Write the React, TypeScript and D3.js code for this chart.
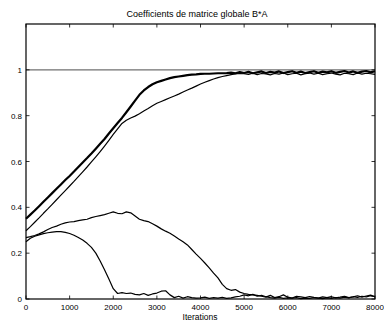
import React from "react";
import * as d3 from "d3";

const iterations: number[] = d3.range(0, 8001, 100);

const diagA: number[] = [
  0.350, 0.368, 0.386, 0.405, 0.424, 0.443, 0.462, 0.481, 0.500, 0.519,
  0.537, 0.556, 0.576, 0.596, 0.615, 0.635, 0.656, 0.677, 0.698, 0.722,
  0.745, 0.768, 0.790, 0.815, 0.840, 0.866, 0.891, 0.910, 0.925, 0.937,
  0.946, 0.952, 0.958, 0.964, 0.968, 0.971, 0.974, 0.977, 0.979, 0.980,
  0.982, 0.983, 0.983, 0.984, 0.985, 0.985, 0.986,
  0.988, 0.985, 0.990, 0.986, 0.991, 0.985, 0.989, 0.993, 0.986, 0.991,
  0.988, 0.993, 0.986, 0.990, 0.994, 0.987, 0.992, 0.986, 0.990, 0.994,
  0.987, 0.992, 0.989, 0.994, 0.987, 0.991, 0.995, 0.988, 0.993, 0.987,
  0.992, 0.995, 0.989, 0.994,
];

const diagB: number[] = [
  0.298, 0.316, 0.335, 0.354, 0.374, 0.393, 0.413, 0.433, 0.453, 0.473,
  0.493, 0.513, 0.534, 0.555, 0.576, 0.598, 0.620, 0.643, 0.667, 0.692,
  0.718, 0.742, 0.766, 0.780, 0.790, 0.798, 0.808, 0.820, 0.831, 0.843,
  0.854, 0.862, 0.870, 0.878, 0.886, 0.894, 0.903, 0.912, 0.920, 0.929,
  0.938, 0.946, 0.953, 0.960, 0.966, 0.971, 0.975, 0.979, 0.982, 0.984,
  0.983, 0.980, 0.985, 0.979, 0.984, 0.982, 0.978, 0.984, 0.981, 0.986,
  0.979, 0.983, 0.985, 0.978, 0.983, 0.986, 0.981, 0.985, 0.979, 0.983,
  0.986, 0.981, 0.978, 0.985, 0.983, 0.979, 0.986, 0.981, 0.985, 0.983,
  0.980,
];

const offC: number[] = [
  0.268, 0.272, 0.277, 0.284, 0.293, 0.303, 0.312, 0.318, 0.326, 0.332,
  0.336, 0.338, 0.342, 0.345, 0.348, 0.355, 0.360, 0.364, 0.368, 0.374,
  0.380, 0.374, 0.372, 0.380, 0.376, 0.362, 0.348, 0.342, 0.338, 0.328,
  0.318, 0.306, 0.296, 0.287, 0.275, 0.262, 0.250, 0.236, 0.216, 0.196,
  0.177, 0.157, 0.136, 0.113, 0.092, 0.064, 0.045, 0.038, 0.041, 0.030,
  0.024, 0.020, 0.018, 0.016,
  0.012, 0.008, 0.016, 0.006, 0.010, 0.018, 0.008, 0.004, 0.012, 0.009,
  0.006, 0.011, 0.007, 0.004, 0.009, 0.006, 0.010, 0.005, 0.008, 0.012,
  0.006, 0.009, 0.014, 0.008, 0.013, 0.017, 0.010,
];

const offD: number[] = [
  0.250, 0.265, 0.274, 0.280, 0.285, 0.289, 0.292, 0.294, 0.294, 0.291,
  0.286, 0.278, 0.268, 0.257, 0.243, 0.225, 0.200, 0.166, 0.128, 0.087,
  0.045, 0.024, 0.028, 0.024, 0.026, 0.020, 0.018, 0.024, 0.016, 0.022,
  0.026, 0.034, 0.036, 0.018, 0.006, 0.012, 0.004, 0.010, 0.006, 0.004,
  0.005, 0.008, 0.003, 0.006, 0.004, 0.007, 0.003, 0.005, 0.009, 0.012,
  0.018, 0.014, 0.020, 0.012, 0.016, 0.010, 0.006, 0.004, 0.007, 0.003,
  0.005, 0.004, 0.006, 0.002, 0.004, 0.003, 0.006, 0.004, 0.002, 0.005,
  0.003, 0.006, 0.004, 0.008, 0.005, 0.010, 0.007, 0.012, 0.009, 0.014,
  0.010,
];

const xTicks: number[] = [0, 1000, 2000, 3000, 4000, 5000, 6000, 7000, 8000];
const yTicks: number[] = [0, 0.2, 0.4, 0.6, 0.8, 1];
const yTickLabels: string[] = ["0", "0.2", "0.4", "0.6", "0.8", "1"];
const refLevel = 1;

const series = [
  { name: "A", values: diagA, width: 2.2 },
  { name: "B", values: diagB, width: 1.2 },
  { name: "C", values: offC, width: 1.2 },
  { name: "D", values: offD, width: 1.2 },
];

export default function App() {
  const W = 384, H = 322;
  const left = 26, right = 375, top = 24, bottom = 299;
  const x = d3.scaleLinear().domain([0, 8000]).range([left, right]);
  const y = d3.scaleLinear().domain([0, 1.2]).range([bottom, top]);
  const font = "'Liberation Sans', Arial, Helvetica, sans-serif";
  const tickLen = 3.5;

  const line = (vals: number[]) =>
    d3.line<number>()
      .x((_, i) => x(iterations[i]))
      .y((v) => y(v))(vals) || "";

  return (
    <svg width={W} height={H} style={{ position: "absolute", left: 0, top: 0, background: "#fff" }}>
      <rect x={0} y={0} width={W} height={H} fill="#fff" />
      <text x={197} y={17} fontFamily={font} fontSize={9} textAnchor="middle" fill="#000">
        Coefficients de matrice globale B*A
      </text>
      <line x1={left} x2={right} y1={y(refLevel)} y2={y(refLevel)} stroke="#707070" strokeWidth={1.2} />
      {series.map((s) => (
        <path key={s.name} d={line(s.values)} fill="none" stroke="#000" strokeWidth={s.width} strokeLinejoin="round" />
      ))}
      {xTicks.map((t) => (
        <g key={"x" + t}>
          <line x1={x(t)} x2={x(t)} y1={bottom} y2={bottom - tickLen} stroke="#000" strokeWidth={0.8} />
          <line x1={x(t)} x2={x(t)} y1={top} y2={top + tickLen} stroke="#000" strokeWidth={0.8} />
          <text x={x(t)} y={310} fontFamily={font} fontSize={8} textAnchor="middle" fill="#000">{t}</text>
        </g>
      ))}
      {yTicks.map((t, i) => (
        <g key={"y" + t}>
          <line x1={left} x2={left + tickLen} y1={y(t)} y2={y(t)} stroke="#000" strokeWidth={0.8} />
          <line x1={right} x2={right - tickLen} y1={y(t)} y2={y(t)} stroke="#000" strokeWidth={0.8} />
          <text x={22} y={y(t) + 3} fontFamily={font} fontSize={8} textAnchor="end" fill="#000">{yTickLabels[i]}</text>
        </g>
      ))}
      <rect x={left} y={top} width={right - left} height={bottom - top} fill="none" stroke="#000" strokeWidth={1.2} />
      <text x={200} y={320} fontFamily={font} fontSize={8.5} textAnchor="middle" fill="#000">Iterations</text>
    </svg>
  );
}
